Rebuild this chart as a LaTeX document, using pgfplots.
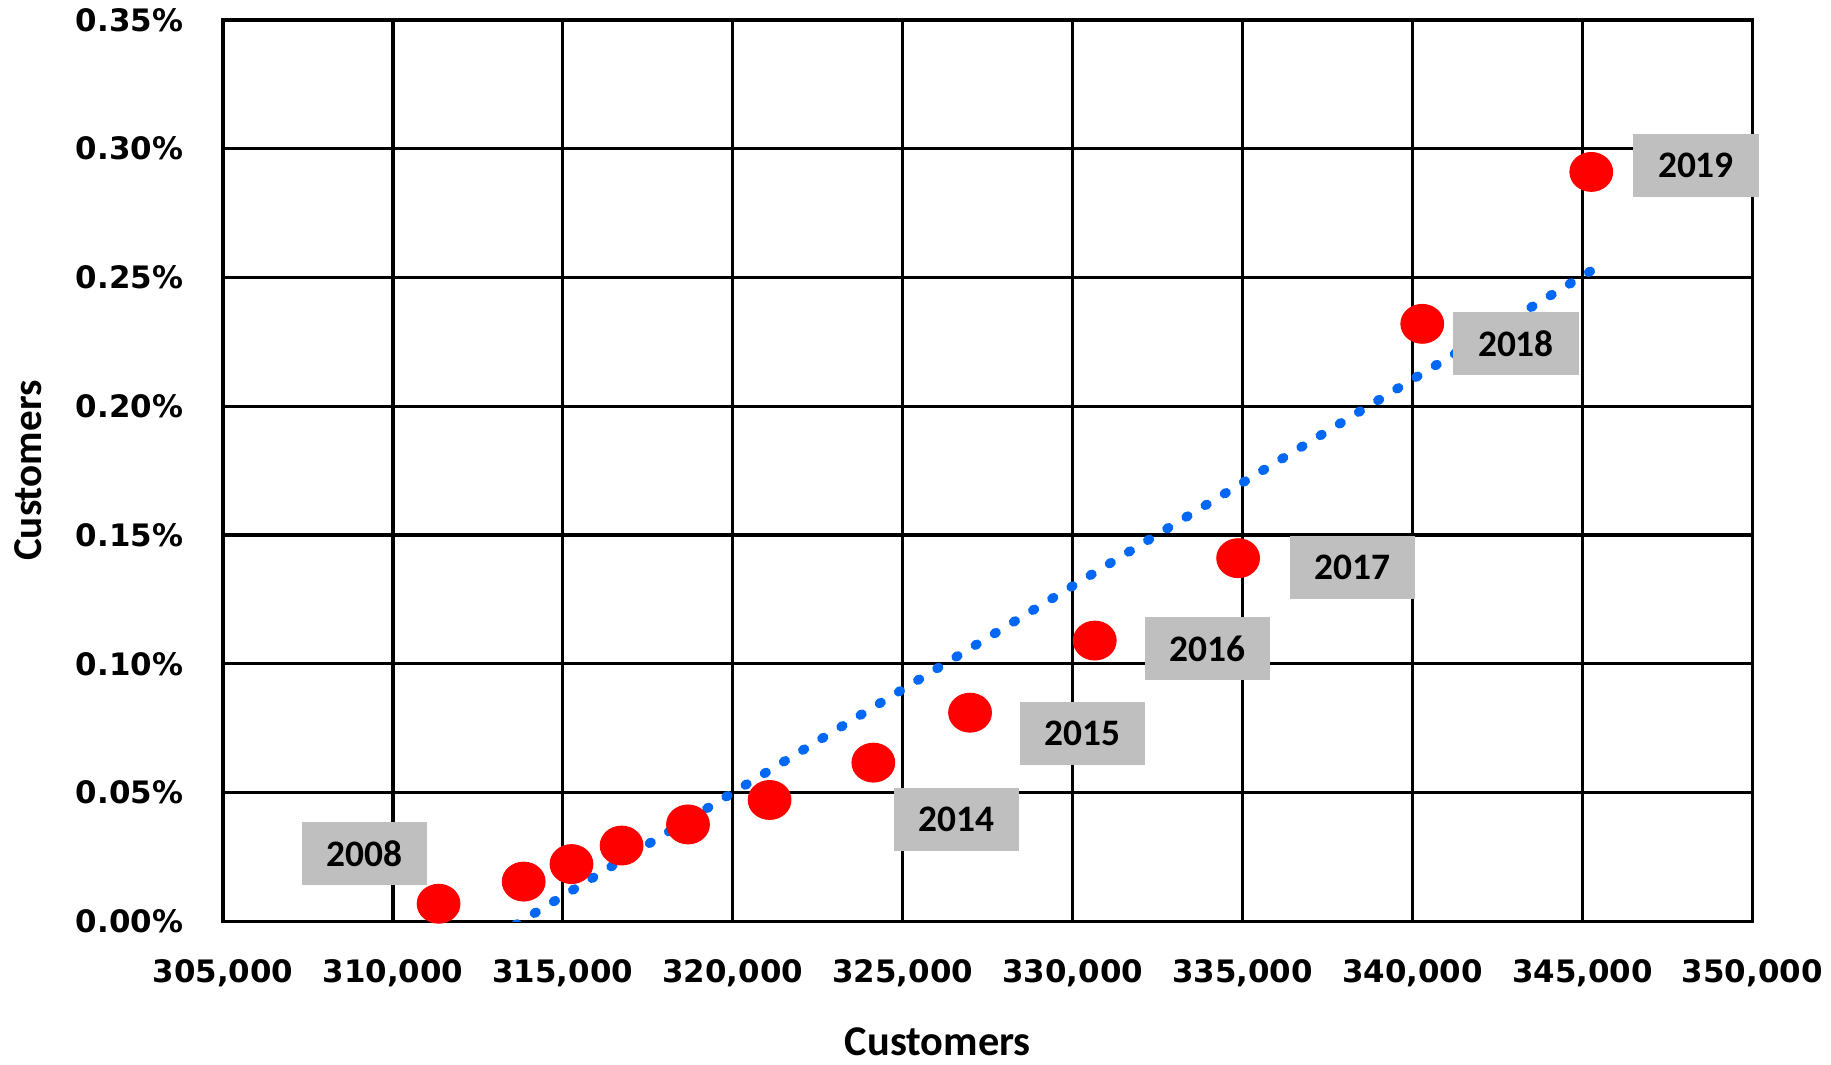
\documentclass[border=0pt]{standalone}
\usepackage{fontspec}
\setmainfont{Carlito}
\newfontfamily\tickfont{DejaVu Sans}
\usepackage{pgfplots}
\usepackage{pgfplotstable}
\pgfplotsset{compat=1.18}
\definecolor{ptred}{HTML}{FF0000}
\definecolor{trendblue}{HTML}{0068F5}
\definecolor{boxgray}{HTML}{BFBFBF}

% customers vs share (%), one row per year
\pgfplotstableread{
x      y
311344 0.0068
313848 0.0154
315254 0.0222
316729 0.0294
318683 0.0376
321084 0.0471
324136 0.0616
326982 0.0810
330652 0.1090
334870 0.1410
340288 0.2320
345261 0.2910
}\data

% labelled years, dx/dy = label offset in pt
\pgfplotstableread{
x      y      label dx    dy
311344 0.0068 2008  -29.9 20.1
324136 0.0616 2014  33.4  -22.9
326982 0.0810 2015  45.0  -8.4
330652 0.1090 2016  45.3  -3.3
334870 0.1410 2017  45.8  -3.7
340288 0.2320 2018  37.6  -7.9
345261 0.2910 2019  42.0  2.6
}\labels

\begin{document}
\begin{tikzpicture}
\begin{axis}[
  scale only axis,
  width=613.6pt, height=361.6pt,
  xmin=305000, xmax=350000,
  ymin=0, ymax=0.35,
  xtick={305000,310000,...,350000},
  ytick={0,0.05,...,0.35},
  scaled x ticks=false,
  scaled y ticks=false,
  grid=major,
  grid style={black, line width=1.3pt},
  axis line style={black, line width=1.3pt},
  major tick length=0pt,
  /pgf/number format/assume math mode=true,
  xticklabel={\pgfmathprintnumber[fixed, precision=0, 1000 sep={,}]{\tick}},
  yticklabel={\pgfmathprintnumber[fixed, fixed zerofill, precision=2]{\tick}\%},
  xticklabel style={font=\tickfont\bfseries\fontsize{12.4}{14}\selectfont, yshift=-12pt},
  yticklabel style={font=\tickfont\bfseries\fontsize{12.4}{14}\selectfont, xshift=-12.5pt},
  xlabel={Customers},
  ylabel={Customers},
  every axis x label/.style={at={(axis description cs:0.5,0)}, anchor=center,
    yshift=-48.5pt, xshift=-20pt, font=\bfseries\fontsize{17}{20}\selectfont},
  every axis y label/.style={at={(axis description cs:0,0.5)}, anchor=center,
    xshift=-78pt, rotate=90, inner ysep=6pt, font=\bfseries\fontsize{16.5}{20}\selectfont},
]
% data points
\addplot[only marks, mark=*, color=ptred,
  mark options={draw=none, fill=ptred, xscale=1.1}, mark size=7.8pt]
  table[x=x, y=y] {\data};
% linear trendline
\addplot[trendblue, line width=3.8pt, line cap=round,
  dash pattern=on 0.8pt off 8.2pt, no marks]
  table[x=x, y={create col/linear regression={y=y}}] {\data};
% year labels
\addplot[only marks, mark=none,
  point meta=explicit symbolic,
  visualization depends on={\thisrow{dx} \as \dx},
  visualization depends on={\thisrow{dy} \as \dy},
  nodes near coords,
  every node near coord/.style={anchor=center, xshift=\dx pt, yshift=\dy pt,
    fill=boxgray, minimum width=50.2pt, minimum height=25.2pt, inner sep=0pt,
    text=black, font=\bfseries\fontsize{15}{18}\selectfont}]
  table[x=x, y=y, meta=label] {\labels};
\end{axis}
\end{tikzpicture}
\end{document}
